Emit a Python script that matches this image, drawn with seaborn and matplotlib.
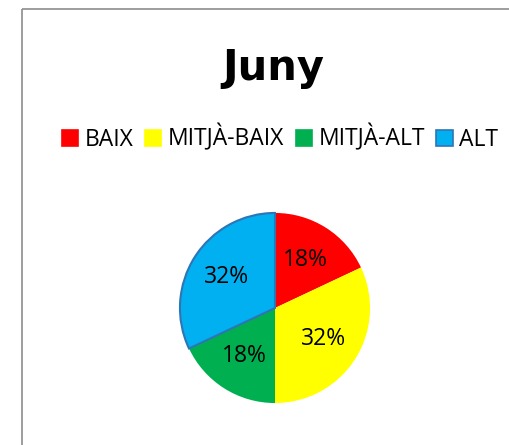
import matplotlib
matplotlib.use("Agg")
import matplotlib.pyplot as plt
import seaborn as sns
from matplotlib.patches import Patch
from matplotlib.lines import Line2D

# Data
categories = ["BAIX", "MITJÀ-BAIX", "MITJÀ-ALT", "ALT"]
values = [18, 32, 18, 32]
colors = ["#FF0000", "#FFFF00", "#00B050", "#00B0F0"]
title = "Juny"

sns.set_theme(style="white")
plt.rcParams["font.family"] = ["Open Sans", "DejaVu Sans"]
plt.rcParams["text.color"] = "black"

W, H = 510, 445
fig = plt.figure(figsize=(W / 100, H / 100), dpi=100)
fig.patch.set_facecolor("white")
fig.patch.set_edgecolor("white")
fig.patch.set_linewidth(0)

# Chart-area frame: left and top edges only (the rest runs off the canvas)
x0, y0 = 21.5 / W, 1 - 8.5 / H
fig.add_artist(Line2D([x0, x0], [-0.05, y0], transform=fig.transFigure,
                      color="#8c8c8c", linewidth=1.2, solid_capstyle="butt"))
fig.add_artist(Line2D([x0, 1.05], [y0, y0], transform=fig.transFigure,
                      color="#8c8c8c", linewidth=1.2, solid_capstyle="butt"))

# Pie
cx, cy, r = 275, 308, 96
ax = fig.add_axes([(cx - r) / W, 1 - (cy + r) / H, 2 * r / W, 2 * r / H])
wedges, texts, autotexts = ax.pie(
    values, colors=colors, startangle=90, counterclock=False,
    autopct="%1.0f%%", pctdistance=0.6, radius=1,
    wedgeprops=dict(linewidth=0),
    textprops=dict(fontsize=16.5, color="black"),
)
wedges[3].set_edgecolor("#2E75B6")
wedges[3].set_linewidth(1.5)
ax.set_xlim(-1.01, 1.01)
ax.set_ylim(-1.01, 1.01)
ax.axis("off")

# Title
fig.text(273 / W, 1 - 68 / H, title, ha="center", va="center", color="black",
         fontsize=30, fontweight="bold", family=["DejaVu Sans"])

# Legend
handles = [Patch(facecolor=c, edgecolor=("#2E75B6" if i == 3 else c), linewidth=1.2)
           for i, c in enumerate(colors)]
leg = fig.legend(handles, categories, loc="center", bbox_to_anchor=(280 / W, 1 - 138 / H),
                 ncol=4, frameon=False, fontsize=16.5, handlelength=0.7, handleheight=0.7,
                 handletextpad=0.3, columnspacing=0.5, borderaxespad=0)
for t in leg.get_texts():
    t.set_color("black")

fig.savefig("out.png", dpi=100, facecolor="white", edgecolor="white")
